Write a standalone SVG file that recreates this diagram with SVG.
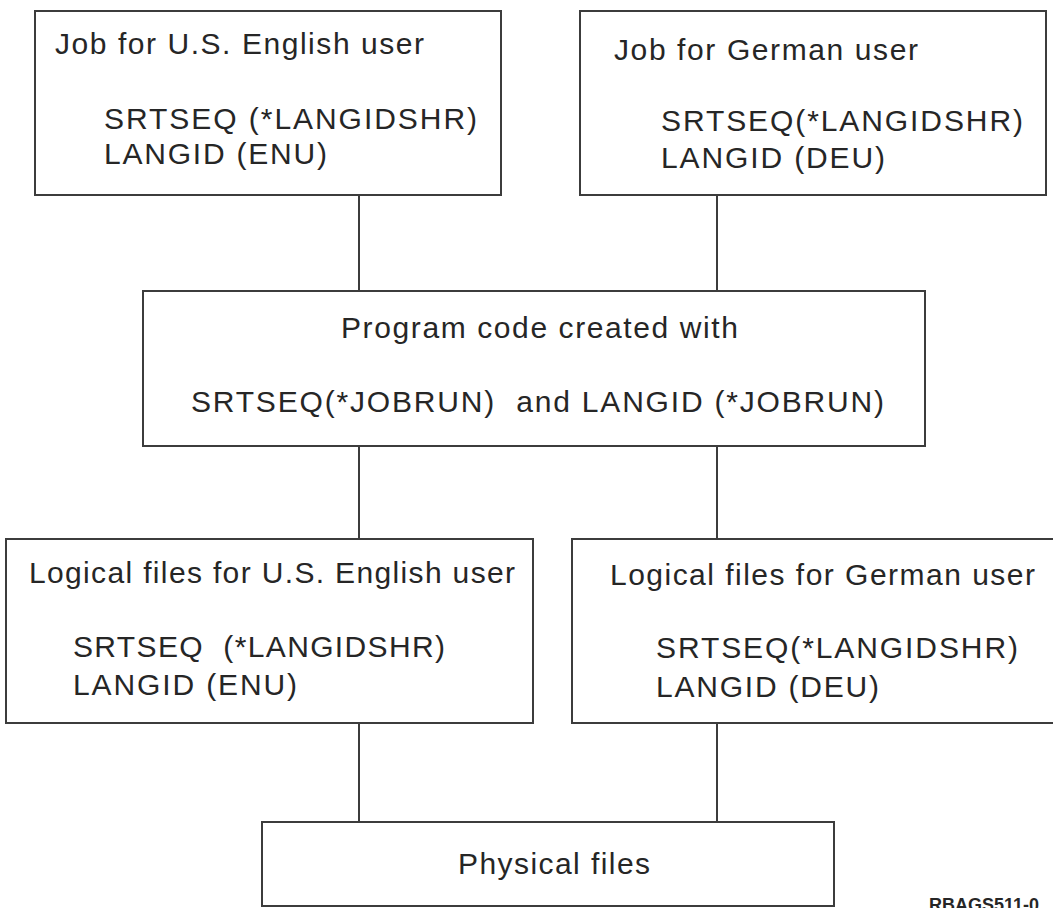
<svg xmlns="http://www.w3.org/2000/svg" width="1053" height="908" viewBox="0 0 1053 908">
<style>
.box{fill:#fff;stroke:#3c3c3c;stroke-width:2}
.t{font-family:"Liberation Sans",Arial,sans-serif;font-size:30px;fill:#262626;white-space:pre}
.c{stroke:#3c3c3c;stroke-width:2;fill:none}
.id{font-family:"Liberation Sans",Arial,sans-serif;font-size:18px;font-weight:bold;fill:#262626}
</style>
<rect width="1053" height="908" fill="#fff"/>
<g id="connectors">
<line class="c" x1="359" y1="195" x2="359" y2="291"/>
<line class="c" x1="717" y1="195" x2="717" y2="291"/>
<line class="c" x1="359" y1="446" x2="359" y2="539"/>
<line class="c" x1="717" y1="446" x2="717" y2="539"/>
<line class="c" x1="359" y1="723" x2="359" y2="822"/>
<line class="c" x1="717" y1="723" x2="717" y2="822"/>
</g>
<g id="job-us">
<rect class="box" x="35" y="11" width="466" height="184"/>
<text class="t" x="55" y="54" textLength="369" lengthAdjust="spacing">Job for U.S. English user</text>
<text class="t" x="104" y="129" textLength="373" lengthAdjust="spacing">SRTSEQ (*LANGIDSHR)</text>
<text class="t" x="104" y="164" textLength="223" lengthAdjust="spacing">LANGID (ENU)</text>
</g>
<g id="job-de">
<rect class="box" x="580" y="11" width="466" height="184"/>
<text class="t" x="614" y="60" textLength="304" lengthAdjust="spacing">Job for German user</text>
<text class="t" x="661" y="131" textLength="362" lengthAdjust="spacing">SRTSEQ(*LANGIDSHR)</text>
<text class="t" x="661" y="168" textLength="224" lengthAdjust="spacing">LANGID (DEU)</text>
</g>
<g id="program">
<rect class="box" x="143" y="291" width="782" height="155"/>
<text class="t" x="341" y="338" textLength="397" lengthAdjust="spacing">Program code created with</text>
<text class="t" x="191" y="412" textLength="693" lengthAdjust="spacing">SRTSEQ(*JOBRUN)  and LANGID (*JOBRUN)</text>
</g>
<g id="logical-us">
<rect class="box" x="6" y="539" width="527" height="184"/>
<text class="t" x="29" y="583" textLength="486" lengthAdjust="spacing">Logical files for U.S. English user</text>
<text class="t" x="73" y="657" textLength="372" lengthAdjust="spacing">SRTSEQ  (*LANGIDSHR)</text>
<text class="t" x="73" y="695" textLength="224" lengthAdjust="spacing">LANGID (ENU)</text>
</g>
<g id="logical-de">
<rect class="box" x="572" y="539" width="500" height="184"/>
<text class="t" x="610" y="585" textLength="425" lengthAdjust="spacing">Logical files for German user</text>
<text class="t" x="656" y="658" textLength="362" lengthAdjust="spacing">SRTSEQ(*LANGIDSHR)</text>
<text class="t" x="656" y="697" textLength="223" lengthAdjust="spacing">LANGID (DEU)</text>
</g>
<g id="physical">
<rect class="box" x="262" y="822" width="572" height="84"/>
<text class="t" x="458" y="874" textLength="192" lengthAdjust="spacing">Physical files</text>
</g>
<text class="id" x="929" y="911">RBAGS511-0</text>
</svg>
